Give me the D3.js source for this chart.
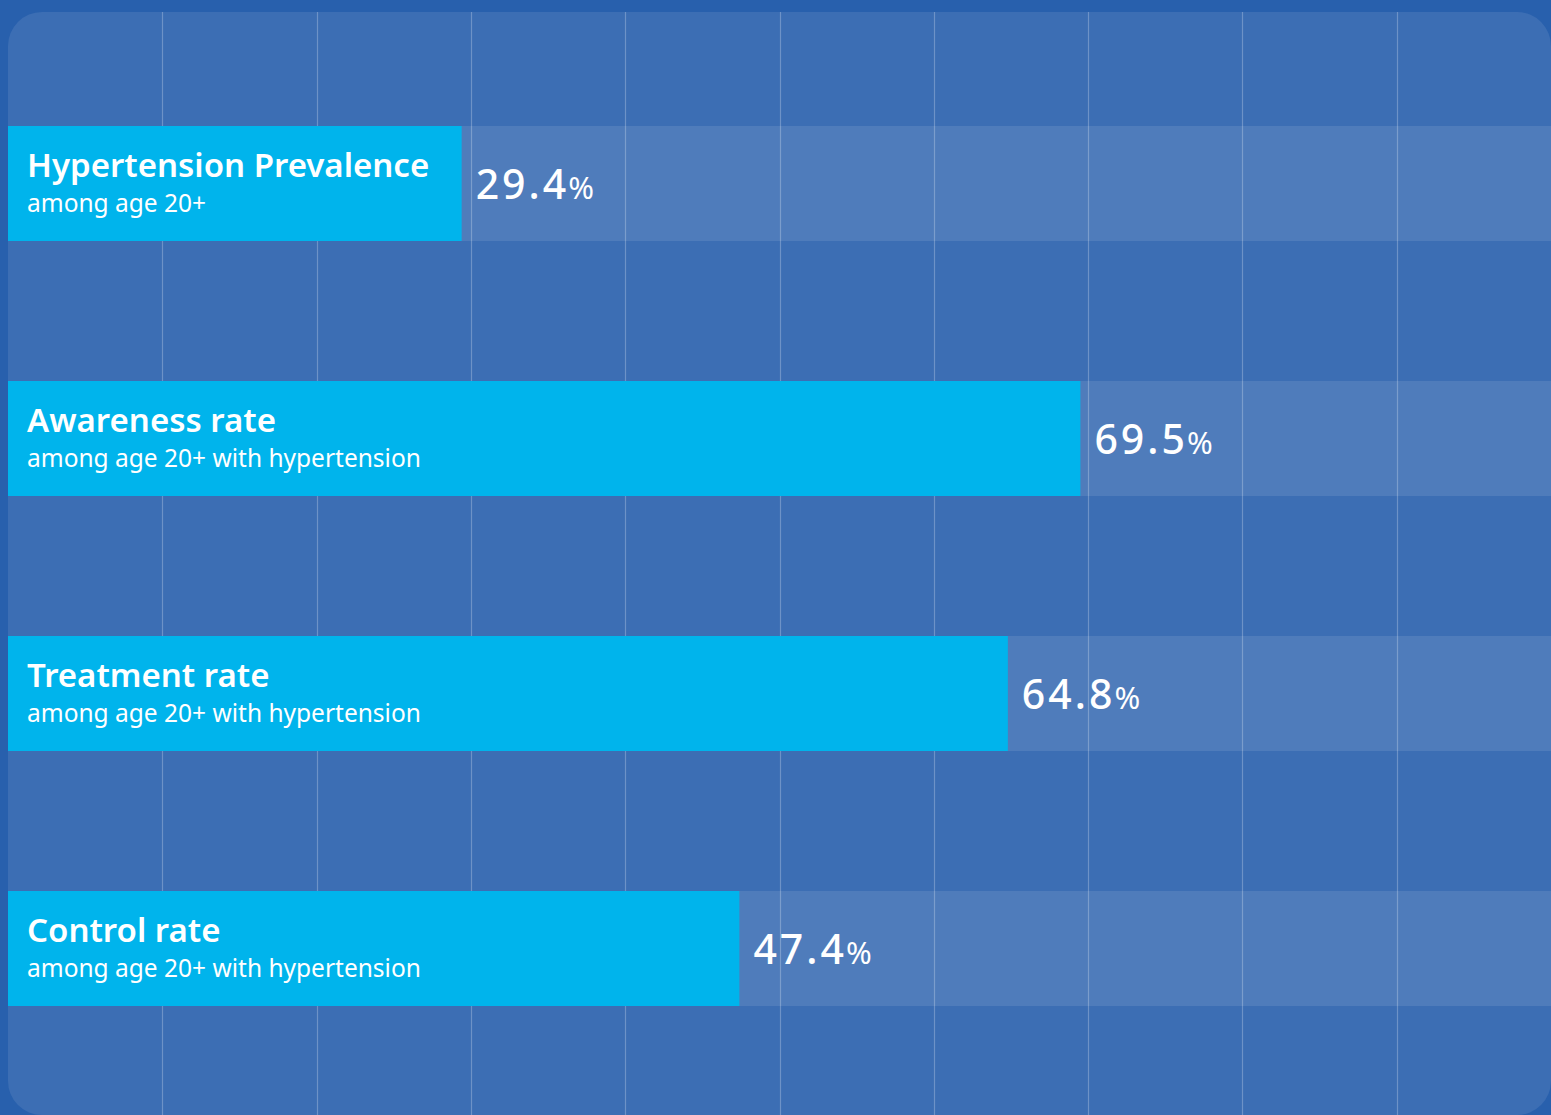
<!DOCTYPE html>
<html>
<head>
<meta charset="utf-8">
<script src="https://cdn.jsdelivr.net/npm/d3@7"></script>
<style>
  html, body { margin: 0; padding: 0; background: #2860ad; }
  svg { display: block; }
</style>
</head>
<body>
<script>
/* data */
var titles = ['Hypertension Prevalence', 'Awareness rate', 'Treatment rate', 'Control rate']
var subtitles = ['among age 20+', 'among age 20+ with hypertension', 'among age 20+ with hypertension', 'among age 20+ with hypertension']
var values = [29.4, 69.5, 64.8, 47.4]
var gridTicks = [10, 20, 30, 40, 50, 60, 70, 80, 90]

/* setup */
var width = 1551
var height = 1115
var font = "'Noto Sans', 'Open Sans', sans-serif"

var svg = d3.select('body').append('svg')
    .attr('width', width)
    .attr('height', height)

svg.append('rect')
    .attr('width', width).attr('height', height)
    .attr('fill', '#2860ad')

// panel
svg.append('clipPath').attr('id', 'panel')
    .append('rect')
    .attr('x', 8).attr('y', 12)
    .attr('width', width - 8).attr('height', height - 12)
    .attr('rx', 34)

var g = svg.append('g').attr('clip-path', 'url(#panel)')

g.append('rect')
    .attr('x', 8).attr('y', 12)
    .attr('width', width - 8).attr('height', height - 12)
    .attr('fill', '#3c6eb4')

var x = d3.scaleLinear().domain([0, 100]).range([8, width])

var y = d3.scaleBand()
    .domain(titles)
    .range([126, 1006])
    .paddingInner(0.549)
    .paddingOuter(0)

// tracks
g.selectAll('rect.track').data(titles)
    .enter().append('rect')
    .attr('class', 'track')
    .attr('x', x(0))
    .attr('y', function(d) { return y(d) })
    .attr('width', x(100) - x(0))
    .attr('height', y.bandwidth())
    .attr('fill', '#ffffff')
    .attr('fill-opacity', 0.1)

// grid
g.selectAll('line.grid').data(gridTicks)
    .enter().append('line')
    .attr('class', 'grid')
    .attr('x1', function(d) { return Math.round(x(d)) + 0.5 })
    .attr('x2', function(d) { return Math.round(x(d)) + 0.5 })
    .attr('y1', 12)
    .attr('y2', height)
    .attr('stroke', '#ffffff')
    .attr('stroke-opacity', 0.25)
    .attr('stroke-width', 1.2)

// bars
var row = g.selectAll('g.row').data(titles)
    .enter().append('g')
    .attr('class', 'row')
    .attr('transform', function(d) { return 'translate(0,' + y(d) + ')' })

row.append('rect')
    .attr('x', x(0))
    .attr('y', 0)
    .attr('width', function(d, i) { return x(values[i]) - x(0) })
    .attr('height', y.bandwidth())
    .attr('fill', '#00b4ec')

row.append('text')
    .attr('x', 27)
    .attr('y', 51)
    .attr('fill', '#ffffff')
    .style('font-family', font)
    .style('font-size', '33px')
    .style('font-weight', 600)
    .text(function(d) { return d })

row.append('text')
    .attr('x', 27)
    .attr('y', 86)
    .attr('fill', '#ffffff')
    .style('font-family', font)
    .style('font-size', '24.5px')
    .style('font-weight', 400)
    .text(function(d, i) { return subtitles[i] })

var val = row.append('text')
    .attr('x', function(d, i) { return x(values[i]) + 14 })
    .attr('y', 73)
    .attr('fill', '#ffffff')
    .style('font-family', font)

val.append('tspan')
    .style('font-size', '41px')
    .style('font-weight', 500)
    .attr('letter-spacing', 3)
    .text(function(d, i) { return values[i].toFixed(1) })

val.append('tspan')
    .style('font-size', '31px')
    .style('font-weight', 400)
    .attr('dx', -1)
    .text('%')
</script>
</body>
</html>
